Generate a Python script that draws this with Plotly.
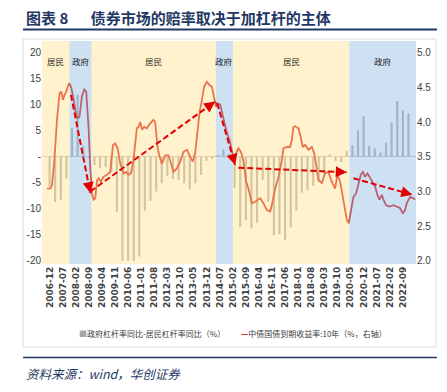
import math
import plotly.graph_objects as go
import pandas as pd

# ---------------- data ----------------
# quarterly: government leverage growth minus household leverage growth (%), left axis
bar_dates = pd.date_range("2006-12-01", "2022-12-01", freq="3MS")
gap_values = [-5.8, -8.7, -8.3, -4.2, 5.5, 11.9, 2.0, -0.3, -1.6, -2.2, -2.0, -3.0,
              -10.6, -20.0, -20.0, -20.0, -19.2, -10.4, -8.5, -6.7, -5.1, -3.7, -4.3, -4.5,
              -5.1, -6.3, -5.1, -3.5, -0.8, -0.4, 0.3, 1.4, 0.5, -6.0, -13.5, -12.2,
              -13.8, -12.7, -4.5, -8.7, -15.1, -14.9, -16.0, -13.6, -10.4, -6.9, -6.4, -5.6,
              -4.8, -3.5, 0.5, -0.8, -1.0, 1.1, 2.2, 5.1, 7.8, 2.1, 1.6, 0.8,
              2.7, 6.6, 10.7, 8.9, 8.3]

# 10Y China government bond yield (%), right axis
yield_dates = ["2006-10-20","2006-12-12","2007-01-09","2007-02-16","2007-03-30","2007-05-11","2007-06-08",
               "2007-07-05","2007-07-27","2007-08-29","2007-10-12","2007-11-14","2007-12-26","2008-01-23",
               "2008-02-29","2008-04-01","2008-05-10","2008-06-17","2008-07-19","2008-08-26","2008-09-23",
               "2008-10-20","2008-11-16","2008-12-13","2009-01-11","2009-02-06","2009-03-15","2009-04-27",
               "2009-06-21","2009-08-14","2009-09-28","2009-11-04","2009-12-12","2010-01-25","2010-02-22",
               "2010-03-19","2010-05-01","2010-06-07","2010-07-16","2010-08-28","2010-10-22","2010-11-18",
               "2010-12-15","2011-01-13","2011-02-19","2011-04-02","2011-05-26","2011-07-19","2011-08-16",
               "2011-09-24","2011-10-20","2011-12-04","2012-01-27","2012-03-19","2012-05-15","2012-06-10",
               "2012-08-04","2012-09-27","2012-11-20","2013-01-15","2013-03-07","2013-04-21","2013-05-28",
               "2013-06-25","2013-08-07","2013-09-15","2013-10-22","2013-12-06","2014-01-18","2014-02-25",
               "2014-03-22","2014-05-01","2014-05-16","2014-07-10","2014-08-06","2014-09-18","2014-10-28",
               "2014-12-10","2015-01-16","2015-02-12","2015-03-26","2015-05-03","2015-06-12","2015-07-22",
               "2015-09-06","2015-10-13","2015-12-07","2016-02-01","2016-04-21","2016-06-13","2016-08-09",
               "2016-10-01","2016-10-28","2016-12-22","2017-02-15","2017-04-10","2017-05-04","2017-06-28",
               "2017-08-21","2017-09-19","2017-10-15","2017-11-12","2017-12-09","2018-01-06","2018-02-03",
               "2018-03-16","2018-04-22","2018-06-16","2018-08-10","2018-09-18","2018-10-19","2018-11-27",
               "2019-01-22","2019-03-13","2019-05-07","2019-07-01","2019-08-25","2019-10-01","2019-11-15",
               "2020-01-07","2020-03-02","2020-04-03","2020-05-06","2020-06-18","2020-08-01","2020-09-07",
               "2020-10-16","2020-11-18","2020-12-25","2021-02-02","2021-03-16","2021-04-28","2021-06-06",
               "2021-07-13","2021-08-15","2021-09-24","2021-10-19","2021-12-03","2022-01-25","2022-03-31",
               "2022-05-25","2022-07-16","2022-09-01","2022-10-07","2022-11-04","2022-12-28","2023-02-20",
               "2023-03-19"]
yield_values = [3.04, 3.04, 3.09, 3.45, 4.02, 4.41, 4.44, 4.32, 4.38, 4.44, 4.56, 4.51, 4.34, 4.17,
                4.05, 4.08, 4.37, 4.47, 4.44, 3.93, 3.36, 2.97, 2.88, 2.90, 3.16, 3.19, 3.14, 3.21,
                3.24, 3.28, 3.67, 3.69, 3.62, 3.40, 3.33, 3.26, 3.28, 3.24, 3.26, 3.45, 3.91, 3.93,
                4.00, 3.89, 3.93, 3.91, 3.98, 4.03, 4.00, 3.64, 3.52, 3.40, 3.52, 3.52, 3.36, 3.28,
                3.33, 3.43, 3.57, 3.60, 3.50, 3.43, 3.55, 3.77, 4.13, 4.32, 4.51, 4.58, 4.53, 4.51,
                4.39, 4.22, 4.27, 4.25, 4.15, 3.98, 3.84, 3.74, 3.60, 3.48, 3.55, 3.62, 3.57, 3.45,
                3.14, 3.04, 2.83, 2.85, 2.90, 2.83, 2.73, 2.71, 2.80, 3.04, 3.21, 3.45, 3.62, 3.64,
                3.64, 3.74, 3.93, 3.94, 3.92, 3.91, 3.81, 3.64, 3.67, 3.60, 3.64, 3.55, 3.38, 3.16,
                3.12, 3.26, 3.28, 3.14, 3.04, 3.24, 3.14, 2.88, 2.59, 2.54, 2.71, 2.92, 2.97, 3.12,
                3.24, 3.28, 3.21, 3.26, 3.19, 3.14, 3.07, 2.95, 2.88, 2.95, 2.88, 2.80, 2.78, 2.80,
                2.78, 2.76, 2.68, 2.73, 2.83, 2.92, 2.90, 2.88]

# regimes (who is adding leverage)
regime_bounds = ["2006-07-30", "2007-10-21", "2008-10-14", "2014-05-01", "2015-02-02", "2020-04-13", "2023-04-03"]
regime_names = ["居民", "政府", "居民", "政府", "居民", "政府"]

# trend arrows (left-axis units)
trend_x0 = ["2007-11-14", "2008-09-24", "2014-05-22", "2015-05-01", "2020-06-18"]
trend_y0 = [11.9, -6.7, 10.3, -2.1, -4.15]
trend_x1 = ["2008-09-24", "2014-04-19", "2015-03-10", "2020-03-02", "2023-02-01"]
trend_y1 = [-7.0, 10.6, -1.6, -3.0, -7.3]

x_tick_labels = ["2006-12", "2007-07", "2008-02", "2008-09", "2009-04", "2009-11", "2010-06",
                 "2011-01", "2011-08", "2012-03", "2012-10", "2013-05", "2013-12", "2014-07",
                 "2015-02", "2015-09", "2016-04", "2016-11", "2017-06", "2018-01", "2018-08",
                 "2019-03", "2019-10", "2020-05", "2020-12", "2021-07", "2022-02", "2022-09"]
left_ticks = [-20, -15, -10, -5, 0, 5, 10, 15, 20]
left_ticktext = ["-20", "-15", "-10", "-5", "-", "5", "10", "15", "20"]
right_ticks = [2.0, 2.5, 3.0, 3.5, 4.0, 4.5, 5.0]

bar_name = "政府杠杆率同比-居民杠杆率同比（%）"
line_name = "中债国债到期收益率:10年（%，右轴）"

# ---------------- geometry (page pixels; the page body adds an 8px offset) ----------------
OFF = 8
W, H = 447 - OFF, 392 - OFF
P_LEFT, P_RIGHT, P_TOP, P_BOTTOM = 42, 416, 41, 264      # plot area in page pixels
ML, MT = P_LEFT - OFF, P_TOP - OFF
MR, MB = W - (P_RIGHT - OFF), H - (P_BOTTOM - OFF)
PW, PH = P_RIGHT - P_LEFT, P_BOTTOM - P_TOP
yl_range = [-20.63, 22.25]
yr_range = [3.5 + 0.075 * yl_range[0], 3.5 + 0.075 * yl_range[1]]
x_range = [regime_bounds[0], regime_bounds[-1]]
ms_span = (pd.Timestamp(x_range[1]) - pd.Timestamp(x_range[0])).total_seconds() * 1000
px_per_ms = PW / ms_span
px_per_unit = PH / (yl_range[1] - yl_range[0])


def px(X):
    return (X - P_LEFT) / PW


def py(Y):
    return (P_BOTTOM - Y) / PH


BAR_C = "#A6A6A6"
LINE_C = "#D60000"
NAVY = "#1F3864"
TICKF = "Liberation Sans Narrow, Arial Narrow, Liberation Sans, sans-serif"
CJK = "Noto Sans CJK SC, sans-serif"

fig = go.Figure()
fig.add_trace(go.Bar(x=bar_dates, y=gap_values, name=bar_name, marker_color=BAR_C,
                     marker_line_width=0, width=2.2 / px_per_ms, yaxis="y"))
fig.add_trace(go.Scatter(x=yield_dates, y=yield_values, name=line_name, mode="lines",
                         line=dict(color=LINE_C, width=1.8), yaxis="y2"))

shapes = []
colors = ["rgba(255,230,153,0.5)", "rgba(157,195,230,0.5)"]
for i in range(len(regime_names)):
    shapes.append(dict(type="rect", xref="x", yref="paper", x0=regime_bounds[i], x1=regime_bounds[i + 1],
                       y0=0, y1=1, fillcolor=colors[i % 2], line_width=0, layer="above"))
for a, b, c, d in zip(trend_x0, trend_y0, trend_x1, trend_y1):
    shapes.append(dict(type="line", xref="x", yref="y", x0=a, y0=b, x1=c, y1=d, layer="above",
                       line=dict(color="#E00000", width=2, dash="6px,3px")))
# frame and rules
shapes.append(dict(type="rect", xref="paper", yref="paper", x0=px(23), x1=px(436), y0=py(347), y1=py(39),
                   line=dict(color="#D9D9D9", width=1), layer="below"))
shapes.append(dict(type="line", xref="paper", yref="paper", x0=px(23), x1=px(437), y0=py(29.5), y1=py(29.5),
                   line=dict(color=NAVY, width=2)))
shapes.append(dict(type="line", xref="paper", yref="paper", x0=px(23), x1=px(437), y0=py(357.5), y1=py(357.5),
                   line=dict(color=NAVY, width=1.5)))

annotations = []
# arrow heads
for a, b, c, d in zip(trend_x0, trend_y0, trend_x1, trend_y1):
    dx = (pd.Timestamp(c) - pd.Timestamp(a)).total_seconds() * 1000 * px_per_ms
    dy = -(d - b) * px_per_unit
    n = math.hypot(dx, dy)
    L = 5
    annotations.append(dict(x=c, y=d, xref="x", yref="y", ax=-dx / n * L, ay=-dy / n * L,
                            showarrow=True, arrowhead=2, arrowsize=1.1, arrowwidth=2,
                            arrowcolor="#E00000", text="", standoff=0))
# regime labels
for i, name in enumerate(regime_names):
    mid = pd.Timestamp(regime_bounds[i]) + (pd.Timestamp(regime_bounds[i + 1]) - pd.Timestamp(regime_bounds[i])) / 2
    annotations.append(dict(x=mid, y=py(52.7), xref="x", yref="paper", text=name, showarrow=False,
                            font=dict(family=CJK, size=8.5, color="#262626")))
# legend
annotations.append(dict(x=px(77), y=py(333), xref="paper", yref="paper", xanchor="left", yanchor="middle",
                        showarrow=False,
                        text="<span style='color:%s'>■</span>%s" % (BAR_C, bar_name),
                        font=dict(family=CJK, size=8, color="#404040")))
annotations.append(dict(x=px(239), y=py(333), xref="paper", yref="paper", xanchor="left", yanchor="middle",
                        showarrow=False,
                        text="<span style='color:%s'><b>—</b></span>%s" % (LINE_C, line_name),
                        font=dict(family=CJK, size=8, color="#404040")))
# source
annotations.append(dict(x=px(24), y=py(373), xref="paper", yref="paper", xanchor="left", yanchor="middle",
                        showarrow=False, text="<i>资料来源：wind，华创证券</i>",
                        font=dict(family=CJK, size=12.5, color=NAVY)))
# title (kept inside the page's drawable area)
annotations.append(dict(x=px(24), y=py(18), xref="paper", yref="paper", xanchor="left", yanchor="middle",
                        showarrow=False,
                        text="<b>图表 8\u3000\u2002债券市场的赔率取决于加杠杆的主体</b>",
                        font=dict(family=CJK, size=15, color=NAVY)))

fig.update_layout(
    width=W, height=H, margin=dict(l=ML, r=MR, t=MT, b=MB, autoexpand=False),
    paper_bgcolor="white", plot_bgcolor="white", showlegend=False,
    xaxis=dict(type="date", range=x_range, tickmode="array",
               tickvals=[l + "-01" for l in x_tick_labels], ticktext=x_tick_labels,
               tickangle=-90, showgrid=False, zeroline=False, showline=False, ticks="", automargin=False,
               tickfont=dict(family="DejaVu Sans", size=9, color="#404040", weight="bold")),
    yaxis=dict(range=yl_range, tickmode="array", tickvals=left_ticks, ticktext=left_ticktext,
               showgrid=False, zeroline=True, zerolinecolor="#BFBFBF", zerolinewidth=1, ticks="",
               automargin=False, ticklabelstandoff=0, tickfont=dict(family=TICKF, size=10, color="#404040")),
    yaxis2=dict(range=yr_range, overlaying="y", side="right", tickmode="array", tickvals=right_ticks,
                ticktext=["%.1f" % v for v in right_ticks], showgrid=False, zeroline=False, ticks="",
                automargin=False, tickfont=dict(family=TICKF, size=10, color="#404040")),
    shapes=shapes, annotations=annotations,
)

fig.write_html("out.html")
